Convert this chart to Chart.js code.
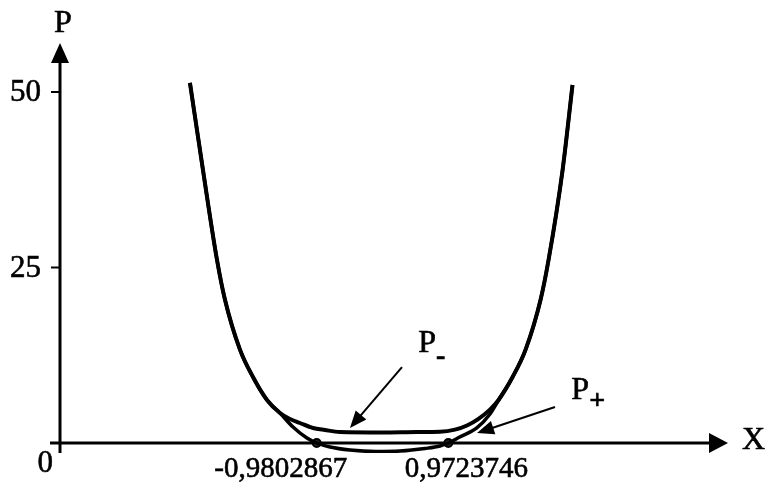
<!DOCTYPE html>
<html>
<head>
<meta charset="utf-8">
<script src="https://cdn.jsdelivr.net/npm/chart.js@4/dist/chart.umd.min.js"></script>
<style>
  html, body { margin: 0; padding: 0; background: #fff; }
  #wrap { width: 770px; height: 491px; }
</style>
</head>
<body>
<div id="wrap"><canvas id="c" width="770" height="491"></canvas></div>
<script>
// P− curve: stays above the X axis, shallow minimum near 1.5
const pMinusX = [-2.861, -2.668, -2.460, -2.341, -2.119, -1.926, -1.718, -1.525, -1.377, -1.228, -1.036, -0.858, -0.635, 0.000, 0.507, 0.849, 1.071, 1.249, 1.420, 1.590, 1.718, 1.926, 2.119, 2.341, 2.460, 2.668, 2.815];
const pMinusY = [51.3, 38.9, 26.1, 20.4, 13.3, 9.4, 6.13, 4.27, 3.42, 2.85, 2.14, 1.85, 1.57, 1.50, 1.57, 1.60, 1.90, 2.50, 3.45, 4.75, 6.13, 9.4, 13.3, 20.4, 26.1, 38.9, 51.0];

// P+ curve: crosses zero at the two roots, dips slightly below the axis between them
const pPlusX = [-2.861, -2.668, -2.460, -2.341, -2.119, -1.926, -1.718, -1.525, -1.332, -1.125, -0.9802867, -0.783, -0.487, -0.101, 0.255, 0.626, 0.849, 0.9723746, 1.142, 1.395, 1.591, 1.718, 1.926, 2.119, 2.341, 2.460, 2.668, 2.815];
const pPlusY = [51.3, 38.9, 26.1, 20.4, 13.3, 9.4, 6.13, 4.27, 2.28, 0.71, 0, -0.57, -1.0, -1.21, -1.14, -0.78, -0.43, 0, 0.85, 2.14, 4.13, 6.13, 9.4, 13.3, 20.4, 26.1, 38.9, 51.0];

// Roots of P+ and their printed labels
const roots = [-0.9802867, 0.9723746];
const rootLabels = ['-0,9802867', '0,9723746'];

// Y axis ticks
const yTicks = [25, 50];
const yTickLabels = ['25', '50'];
const originLabel = '0';

// Axis titles and curve captions
const axisTitles = { x: 'X', y: 'P' };
const curveNames = ['P', 'P'];
const curveSubs = ['-', '+'];
// caption anchor and pointer arrow (tail -> head), in data units
const captionPos = [[0.657, 14.2], [2.93, 7.4]];
const pointerTail = [[0.285, 10.8], [2.555, 5.13]];
const pointerHead = [[-0.487, 2.14], [1.398, 1.42]];

const toPts = (xs, ys) => xs.map((x, i) => ({ x, y: ys[i] }));

const SERIF = "'Liberation Serif', 'DejaVu Serif', serif";

function arrowHead(ctx, x1, y1, x2, y2, len, half) {
  const a = Math.atan2(y2 - y1, x2 - x1);
  ctx.beginPath();
  ctx.moveTo(x2, y2);
  ctx.lineTo(x2 - len * Math.cos(a) + half * Math.sin(a), y2 - len * Math.sin(a) - half * Math.cos(a));
  ctx.lineTo(x2 - len * Math.cos(a) - half * Math.sin(a), y2 - len * Math.sin(a) + half * Math.cos(a));
  ctx.closePath();
  ctx.fill();
}

// slightly heavier text, like printed type
function inkText(ctx, s, x, y) {
  ctx.fillText(s, x, y);
  ctx.strokeText(s, x, y);
}

const axesPlugin = {
  id: 'arrowAxes',
  beforeDatasetsDraw(chart) {
    const { ctx, chartArea: ca, scales: { x, y } } = chart;
    const ox = x.getPixelForValue(x.min);
    const oy = y.getPixelForValue(0);
    ctx.save();
    ctx.strokeStyle = '#000';
    ctx.fillStyle = '#000';
    ctx.lineWidth = 3;
    // vertical axis
    ctx.beginPath();
    ctx.moveTo(ox, ca.bottom);
    ctx.lineTo(ox, ca.top + 16);
    ctx.stroke();
    arrowHead(ctx, ox, ca.bottom, ox, ca.top, 20, 9);
    // horizontal axis
    ctx.beginPath();
    ctx.moveTo(ox - 10, oy);
    ctx.lineTo(ca.right - 16, oy);
    ctx.stroke();
    arrowHead(ctx, ox - 10, oy, ca.right, oy, 19, 10);
    // tick marks on the vertical axis
    ctx.lineWidth = 2;
    yTicks.forEach(v => {
      const py = y.getPixelForValue(v);
      ctx.beginPath();
      ctx.moveTo(ox - 9, py);
      ctx.lineTo(ox, py);
      ctx.stroke();
    });
    ctx.lineWidth = 0.6;
    // tick labels
    ctx.font = `31px ${SERIF}`;
    ctx.textAlign = 'right';
    ctx.textBaseline = 'middle';
    yTicks.forEach((v, i) => inkText(ctx, yTickLabels[i], ox - 19, y.getPixelForValue(v) + 1));
    inkText(ctx, originLabel, ox - 7, oy + 21);
    // axis titles
    ctx.font = `32px ${SERIF}`;
    ctx.textAlign = 'center';
    inkText(ctx, axisTitles.y, ox + 3, ca.top - 19);
    ctx.textAlign = 'left';
    inkText(ctx, axisTitles.x, ca.right + 14, oy - 2);
    // root labels
    ctx.font = `29px ${SERIF}`;
    ctx.textAlign = 'center';
    roots.forEach((r, i) => inkText(ctx, rootLabels[i], x.getPixelForValue(r) - (i === 0 ? 36 : -18), oy + 26));
    ctx.restore();
  },
  afterDatasetsDraw(chart) {
    const { ctx, scales: { x, y } } = chart;
    ctx.save();
    ctx.strokeStyle = '#000';
    ctx.fillStyle = '#000';
    ctx.lineWidth = 2;
    pointerTail.forEach((t, i) => {
      const x1 = x.getPixelForValue(t[0]), y1 = y.getPixelForValue(t[1]);
      const x2 = x.getPixelForValue(pointerHead[i][0]), y2 = y.getPixelForValue(pointerHead[i][1]);
      const a = Math.atan2(y2 - y1, x2 - x1);
      ctx.beginPath();
      ctx.moveTo(x1, y1);
      ctx.lineTo(x2 - 12 * Math.cos(a), y2 - 12 * Math.sin(a));
      ctx.stroke();
      arrowHead(ctx, x1, y1, x2, y2, 17, 7);
    });
    ctx.textBaseline = 'middle';
    ctx.lineWidth = 0.6;
    captionPos.forEach((p, i) => {
      const px = x.getPixelForValue(p[0]), py = y.getPixelForValue(p[1]);
      ctx.font = `32px ${SERIF}`;
      ctx.textAlign = 'center';
      inkText(ctx, curveNames[i], px, py);
      ctx.font = `bold 28px ${SERIF}`;
      ctx.textAlign = 'left';
      inkText(ctx, curveSubs[i], px + 9, py + (i === 0 ? 13 : 11));
    });
    ctx.restore();
  }
};

new Chart(document.getElementById('c'), {
  type: 'scatter',
  data: {
    datasets: [
      {
        label: 'P-',
        data: toPts(pMinusX, pMinusY),
        showLine: true,
        borderColor: '#000',
        borderWidth: 4,
        pointRadius: 0,
        cubicInterpolationMode: 'monotone',
        fill: false
      },
      {
        label: 'P+',
        data: toPts(pPlusX, pPlusY),
        showLine: true,
        borderColor: '#000',
        borderWidth: 3.5,
        pointRadius: 0,
        cubicInterpolationMode: 'monotone',
        fill: false
      },
      {
        label: 'roots',
        data: roots.map(r => ({ x: r, y: 0 })),
        showLine: false,
        pointRadius: 4,
        pointBorderWidth: 2,
        pointBackgroundColor: '#222',
        pointBorderColor: '#000'
      }
    ]
  },
  options: {
    responsive: false,
    animation: false,
    devicePixelRatio: 1,
    layout: { padding: { left: 60, right: 42, top: 43, bottom: 38 } },
    plugins: { legend: { display: false }, tooltip: { enabled: false } },
    scales: {
      x: { type: 'linear', min: -4.789, max: 5.122, display: false },
      y: { type: 'linear', min: -1.425, max: 56.98, display: false }
    }
  },
  plugins: [axesPlugin]
});
</script>
</body>
</html>
